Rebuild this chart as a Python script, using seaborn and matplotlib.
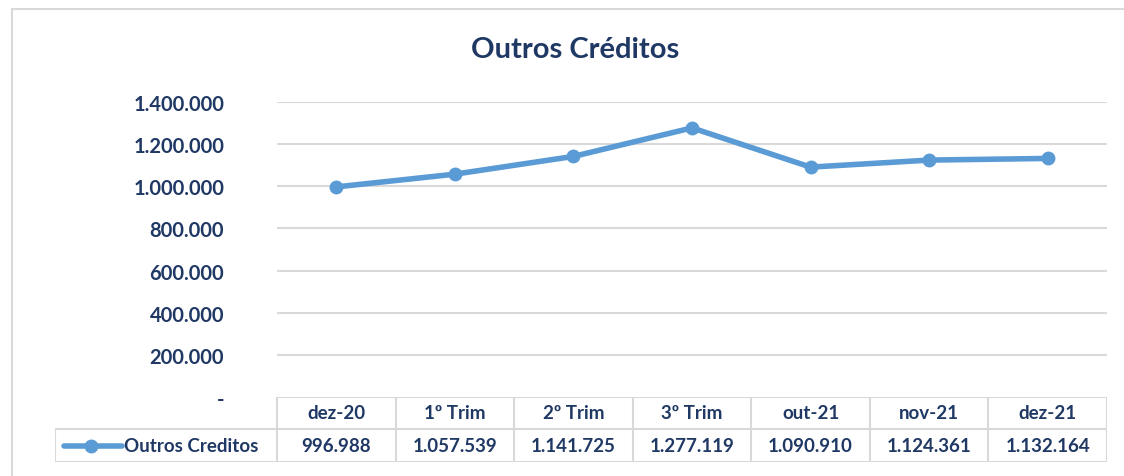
import numpy as np
import pandas as pd
import matplotlib.pyplot as plt
from matplotlib.lines import Line2D
import seaborn as sns

periodos = ['dez-20', '1º Trim', '2º Trim', '3º Trim', 'out-21', 'nov-21', 'dez-21']
valores = [996988, 1057539, 1141725, 1277119, 1090910, 1124361, 1132164]
serie = 'Outros Creditos'
titulo = 'Outros Créditos'
y_ticks = [0, 200000, 400000, 600000, 800000, 1000000, 1200000, 1400000]

NAVY = '#1F3864'
BLUE = '#5B9BD5'
GRID = '#D9D9D9'


def fmt_br(v):
    if v == 0:
        return '-'
    return f'{v:,.0f}'.replace(',', '.')


sns.set_theme(style='white')
plt.rcParams['font.family'] = ['Lato', 'DejaVu Sans']

W, H = 1124, 477
fig = plt.figure(figsize=(W / 100, H / 100), dpi=100)

# chart border (top and left visible)
fig.add_artist(Line2D([12 / W, 1], [1 - 10 / H, 1 - 10 / H], color=GRID, lw=1.5))
fig.add_artist(Line2D([12 / W, 12 / W], [0, 1 - 10 / H], color=GRID, lw=1.5))

x0, x1 = 277, 1107
ax = fig.add_axes([x0 / W, 1 - 398 / H, (x1 - x0) / W, (398 - 103) / H])

df = pd.DataFrame({'periodo': periodos, 'valor': valores})
sns.lineplot(data=df, x='periodo', y='valor', ax=ax, color=BLUE, lw=4,
             marker='o', markersize=10, markeredgewidth=0, sort=False)

ax.set_xlim(-0.5, len(periodos) - 0.5)
ax.set_ylim(0, 1400000)
ax.set_yticks(y_ticks)
ax.set_yticklabels([fmt_br(v) for v in y_ticks], fontsize=14.5, fontweight='bold', color=NAVY)
ax.tick_params(axis='y', length=0, pad=38)
ax.set_xticks([])
ax.set_xlabel('')
ax.set_ylabel('')
for v in y_ticks[1:]:
    ax.axhline(v, color=GRID, lw=1.5, zorder=0)
for s in ax.spines.values():
    s.set_visible(False)

fig.text(575 / W, 1 - 50 / H, titulo, ha='center', va='center',
         fontsize=21, fontweight='bold', color=NAVY)

# data table below the plot
tx0 = 55
tab = fig.add_axes([tx0 / W, 1 - 463 / H, (x1 - tx0) / W, (463 - 398) / H])
tab.set_xlim(tx0, x1)
tab.set_ylim(463, 398)
tab.axis('off')

col_w = (x1 - x0) / len(periodos)
edges = [x0 + i * col_w for i in range(len(periodos) + 1)]
ymid = 430
# horizontal lines
tab.plot([x0, x1], [398, 398], color=GRID, lw=1.5)
tab.plot([tx0, x1], [ymid, ymid], color=GRID, lw=1.5)
tab.plot([tx0, x1], [463, 463], color=GRID, lw=1.5)
# vertical lines
tab.plot([tx0, tx0], [ymid, 463], color=GRID, lw=1.5)
for e in edges:
    tab.plot([e, e], [398, 463], color=GRID, lw=1.5)

for i, (p, v) in enumerate(zip(periodos, valores)):
    cx = (edges[i] + edges[i + 1]) / 2
    tab.text(cx, 414, p, ha='center', va='center', fontsize=13.5,
             fontweight='bold', color=NAVY)
    tab.text(cx, 447, fmt_br(v), ha='center', va='center', fontsize=13.5,
             fontweight='bold', color=NAVY)

tab.plot([64, 122], [447, 447], color=BLUE, lw=4, solid_capstyle='round')
tab.plot([91], [447], 'o', color=BLUE, markersize=9)
tab.text(124, 447, serie, ha='left', va='center', fontsize=13.5,
         fontweight='bold', color=NAVY)

plt.savefig('out.png', dpi=100)
